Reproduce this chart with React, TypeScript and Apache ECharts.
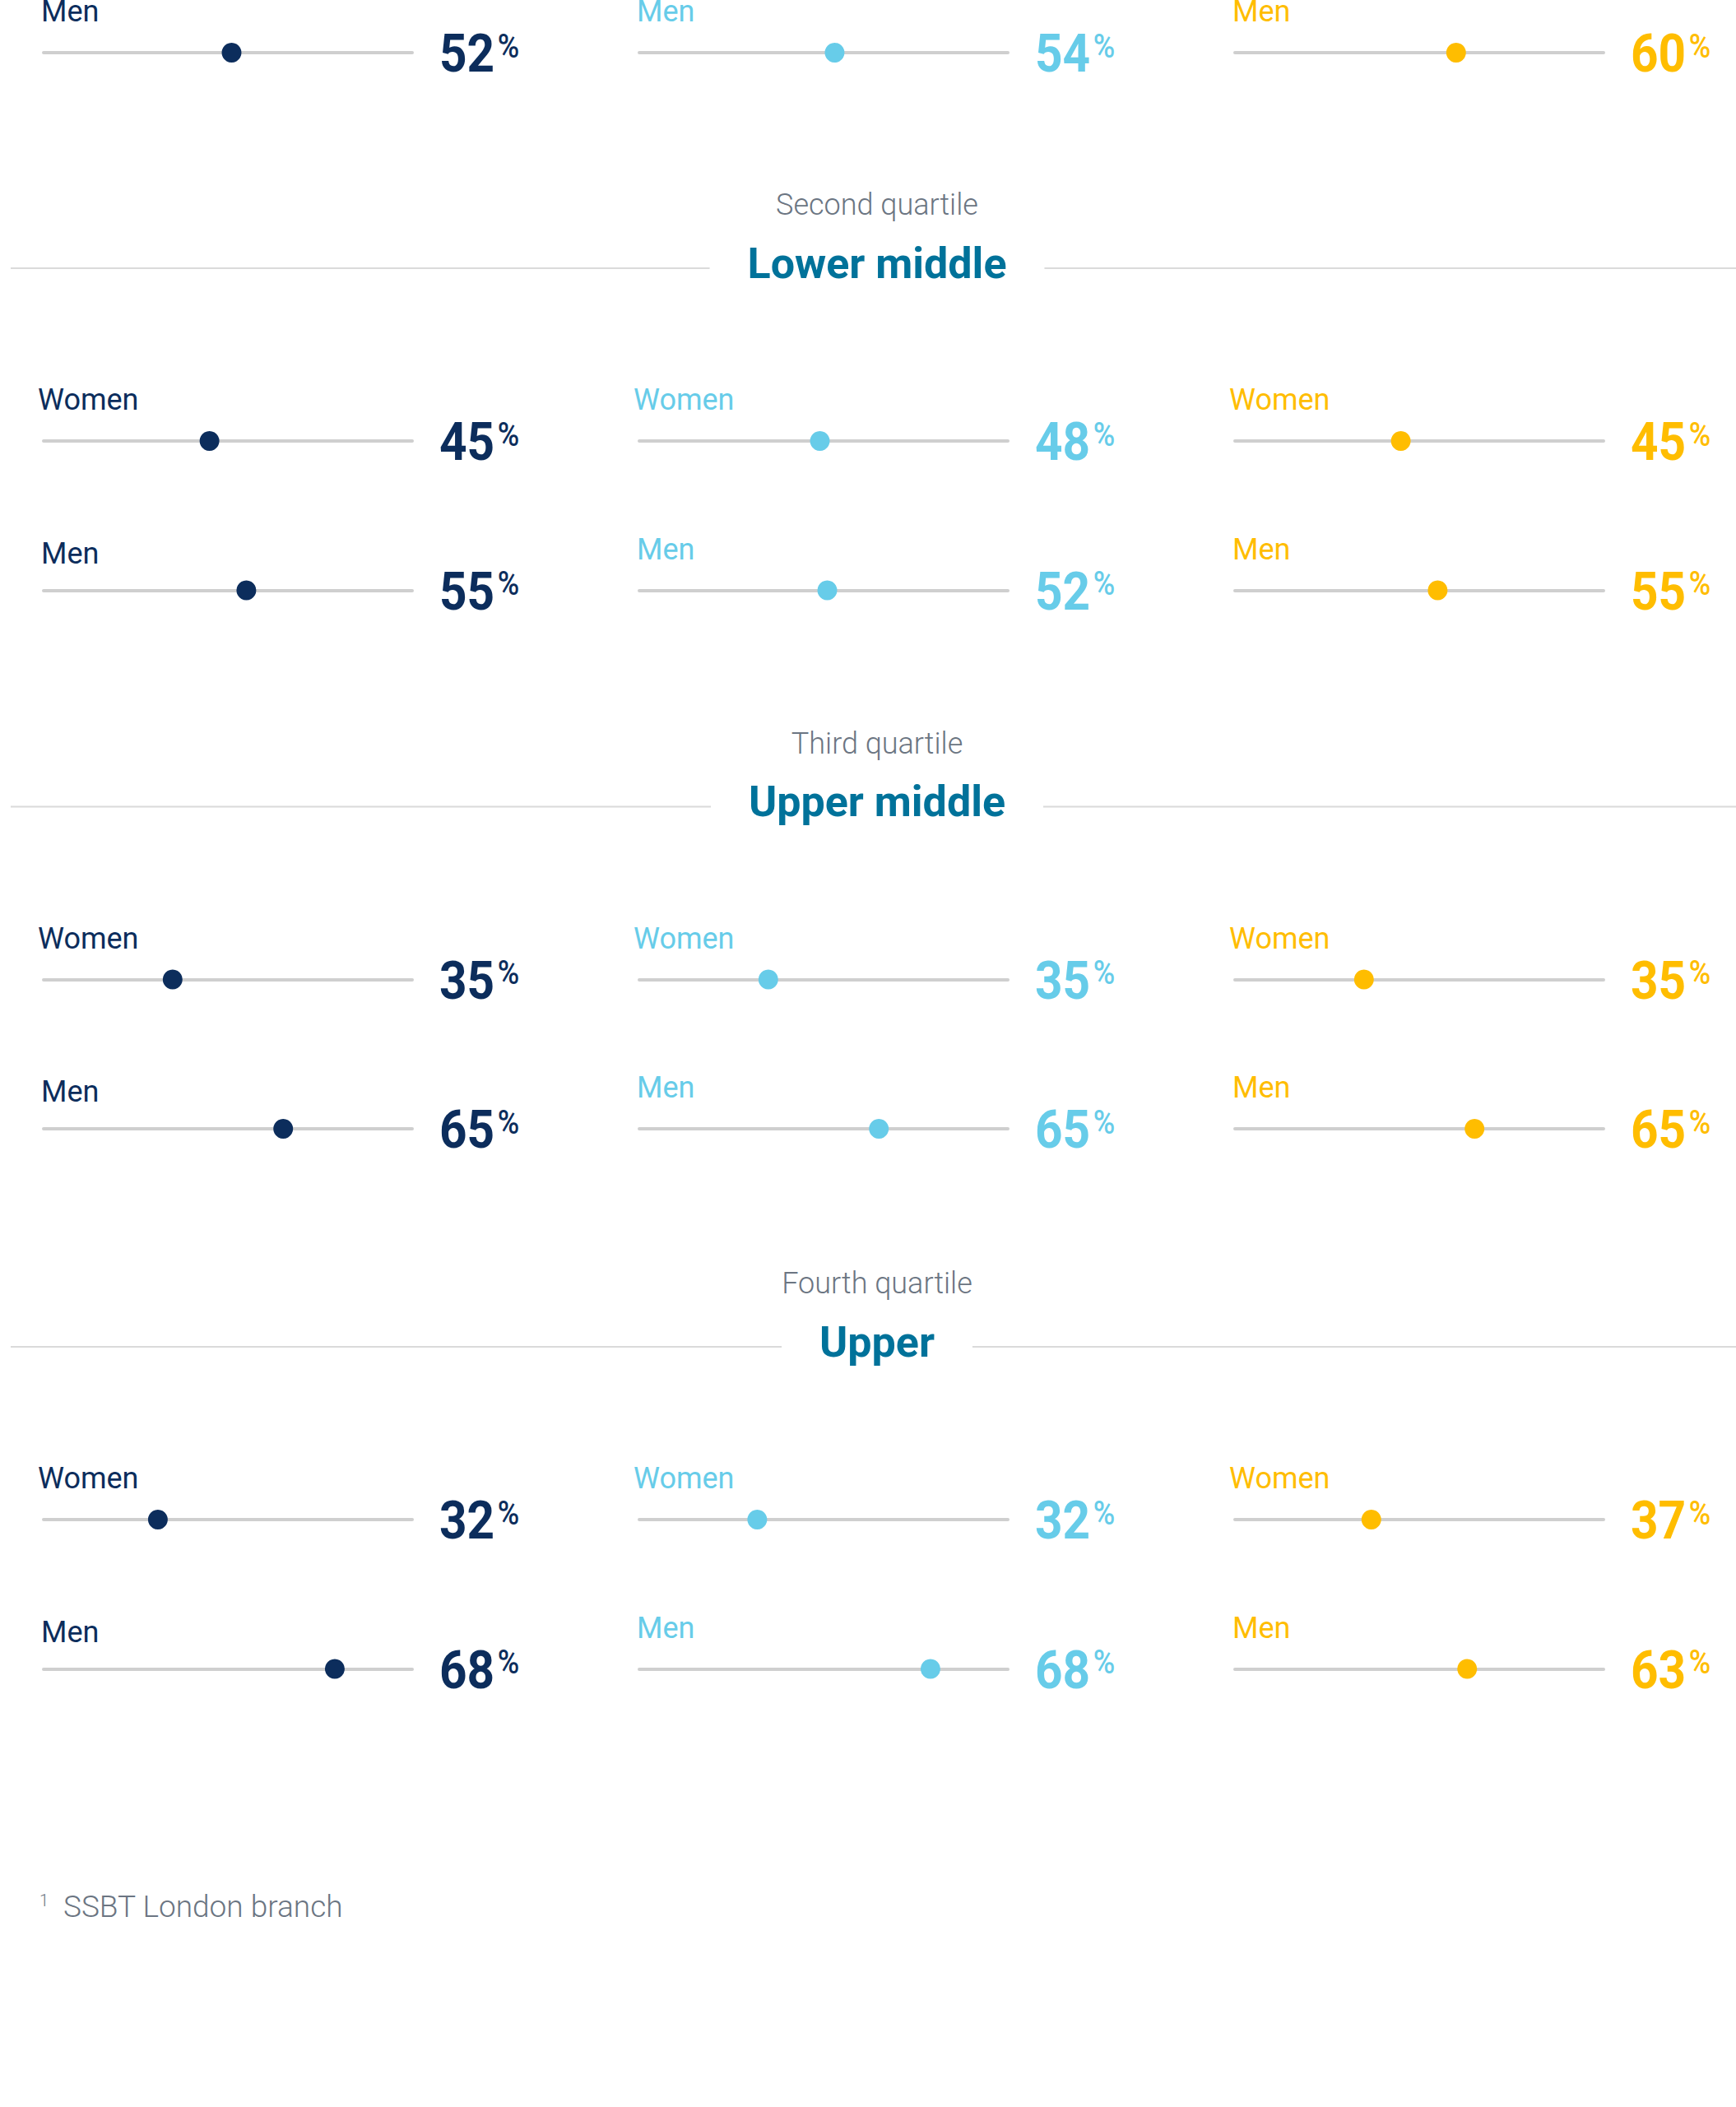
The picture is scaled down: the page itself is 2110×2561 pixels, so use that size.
import React, { useEffect, useRef } from 'react';
import * as echarts from 'echarts';

// ---------- data ----------
const rowLabels = ['Women', 'Men'];
const quartileNames = ['Second quartile', 'Third quartile', 'Fourth quartile'];
const bandNames = ['Lower middle', 'Upper middle', 'Upper'];

// printed percentages (columns left → right)
const firstMenPct = [52, 54, 60];
const lowerMiddleWomenPct = [45, 48, 45];
const lowerMiddleMenPct = [55, 52, 55];
const upperMiddleWomenPct = [35, 35, 35];
const upperMiddleMenPct = [65, 65, 65];
const upperWomenPct = [32, 32, 37];
const upperMenPct = [68, 68, 63];

const firstMenDot = [51, 53, 60];
const lowerMiddleWomenDot = [45, 49, 45];
const lowerMiddleMenDot = [55, 51, 55];
const upperMiddleWomenDot = [35, 35, 35];
const upperMiddleMenDot = [65, 65, 65];
const upperWomenDot = [31, 32, 37];
const upperMenDot = [79, 79, 63];

const footnoteMark = '1';
const footnoteText = 'SSBT London branch';

// ---------- layout / style ----------
const W = 2110;
const H = 2561;
const FONT = 'Roboto';
const colColors = ['#0c2d5c', '#67cce9', '#ffbd00'];
const colX = [53, 777, 1501];
const trackW = 448;
const firstMenY = 64;
const sectionWomenY = [536, 1190.5, 1847];
const menGap = 181.5;

export default function App() {
  const ref = useRef<HTMLDivElement>(null);

  useEffect(() => {
    document.body.style.margin = '0';
    if (!ref.current) return;
    const chart = echarts.init(ref.current, undefined, { renderer: 'svg' });

    type Row = { y: number; label: string; pct: number[]; dot: number[]; shiftCol0: number };
    const rows: Row[] = [
      { y: firstMenY, label: rowLabels[1], pct: firstMenPct, dot: firstMenDot, shiftCol0: 0 },
    ];
    const sectionPct = [
      [lowerMiddleWomenPct, lowerMiddleMenPct],
      [upperMiddleWomenPct, upperMiddleMenPct],
      [upperWomenPct, upperMenPct],
    ];
    const sectionDot = [
      [lowerMiddleWomenDot, lowerMiddleMenDot],
      [upperMiddleWomenDot, upperMiddleMenDot],
      [upperWomenDot, upperMenDot],
    ];
    sectionWomenY.forEach((base, s) => {
      rows.push({ y: base, label: rowLabels[0], pct: sectionPct[s][0], dot: sectionDot[s][0], shiftCol0: 0 });
      rows.push({ y: base + menGap, label: rowLabels[1], pct: sectionPct[s][1], dot: sectionDot[s][1], shiftCol0: 5 });
    });

    const grid: any[] = [];
    const xAxis: any[] = [];
    const yAxis: any[] = [];
    const series: any[] = [];
    const graphic: any[] = [];

    // section headers
    sectionWomenY.forEach((base, s) => {
      graphic.push({
        type: 'line',
        z: 1,
        shape: { x1: 13, y1: base - 210, x2: W, y2: base - 210 },
        style: { stroke: '#dadada', lineWidth: 2 },
      });
      graphic.push({
        type: 'text',
        z: 5,
        x: 1066,
        y: base - 287,
        style: {
          text: quartileNames[s],
          fontFamily: FONT,
          fontSize: 36,
          fontWeight: 300,
          fill: '#6b7582',
          align: 'center',
          verticalAlign: 'middle',
        },
      });
      graphic.push({
        type: 'text',
        z: 5,
        x: 1066,
        y: base - 216,
        style: {
          text: bandNames[s],
          fontFamily: FONT,
          fontSize: 52,
          fontWeight: 'bold',
          fill: '#00729a',
          align: 'center',
          verticalAlign: 'middle',
          backgroundColor: '#ffffff',
          padding: [6, 46, 6, 46],
        },
      });
    });

    rows.forEach((row) => {
      colX.forEach((cx, c) => {
        const idx = grid.length;
        grid.push({ left: cx, top: row.y - 15, width: trackW, height: 15, containLabel: false });
        xAxis.push({
          type: 'value',
          gridIndex: idx,
          min: 0,
          max: 100,
          position: 'bottom',
          axisLine: { show: true, onZero: false, lineStyle: { color: '#cfcfcf', width: 4, cap: 'round' } },
          axisTick: { show: false },
          axisLabel: { show: false },
          splitLine: { show: false },
        });
        yAxis.push({ type: 'value', gridIndex: idx, min: 0, max: 1, show: false });
        series.push({
          type: 'scatter',
          xAxisIndex: idx,
          yAxisIndex: idx,
          clip: false,
          silent: true,
          symbol: 'circle',
          symbolSize: 24,
          itemStyle: { color: colColors[c], opacity: 1 },
          data: [[row.dot[c], 0]],
        });

        const isWomen = row.label === rowLabels[0];
        graphic.push({
          type: 'text',
          x: cx + (isWomen ? -7 : -3),
          y: row.y - 50 + (c === 0 ? row.shiftCol0 : 0),
          style: {
            text: row.label,
            fontFamily: FONT,
            fontSize: 36,
            lineHeight: 26,
            fontWeight: 400,
            fill: colColors[c],
            align: 'left',
            verticalAlign: 'middle',
          },
        });
        graphic.push({
          type: 'text',
          x: cx + trackW + 33,
          y: row.y + 1,
          scaleX: 0.9,
          style: {
            text: `{n|${row.pct[c]}}{p|%}`,
            align: 'left',
            verticalAlign: 'middle',
            rich: {
              n: { fontFamily: FONT, fontSize: 65, fontWeight: 'bold', fill: colColors[c], lineHeight: 70 },
              p: {
                fontFamily: FONT,
                fontSize: 40,
                fontWeight: 500,
                fill: colColors[c],
                height: 52,
                lineHeight: 52,
                verticalAlign: 'top',
                padding: [0, 0, 0, 4],
              },
            },
          },
        });
      });
    });

    // footnote
    graphic.push({
      type: 'text',
      x: 48,
      y: 2310,
      style: { text: footnoteMark, fontFamily: FONT, fontSize: 20, fontWeight: 300, fill: '#6b7582', align: 'left', verticalAlign: 'middle' },
    });
    graphic.push({
      type: 'text',
      x: 77,
      y: 2317,
      style: { text: footnoteText, fontFamily: FONT, fontSize: 37, fontWeight: 300, fill: '#6b7582', align: 'left', verticalAlign: 'middle' },
    });

    chart.setOption({
      animation: false,
      backgroundColor: '#ffffff',
      grid,
      xAxis,
      yAxis,
      series,
      graphic: { elements: graphic },
    });

    return () => chart.dispose();
  }, []);

  return <div ref={ref} style={{ width: W, height: H, position: 'absolute', left: 0, top: 0 }} />;
}
